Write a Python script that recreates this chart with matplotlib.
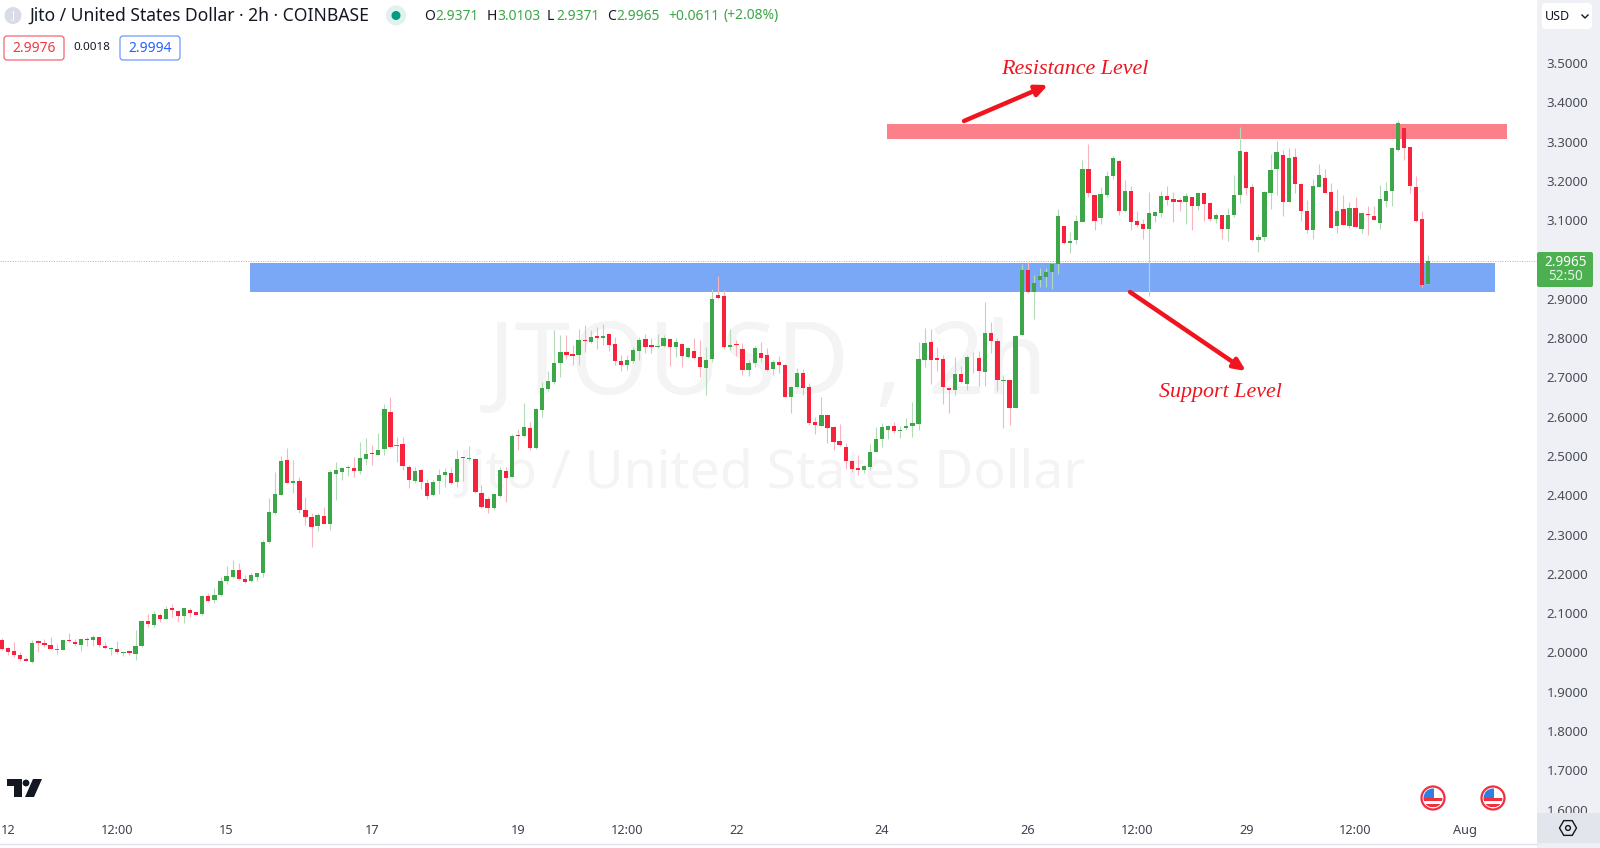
import numpy as np
import matplotlib
matplotlib.use('Agg')
import matplotlib.pyplot as plt
from matplotlib.patches import Rectangle, Circle, Polygon, RegularPolygon, FancyBboxPatch

plt.rcParams['font.family'] = ['Noto Sans', 'DejaVu Sans']

# 2h candles
opens = [
    2.031,2.011,2.003,1.994,1.984,1.977,2.028,2.023,2.019,2.007,
    2.007,2.032,2.027,2.019,2.035,2.032,2.039,2.017,2.009,2.010,
    1.998,2.003,1.996,2.017,2.080,2.069,2.096,2.085,2.112,2.106,
    2.093,2.107,2.102,2.097,2.144,2.133,2.145,2.181,2.191,2.210,
    2.188,2.181,2.191,2.201,2.280,2.355,2.401,2.490,2.430,2.436,
    2.363,2.345,2.321,2.347,2.327,2.455,2.460,2.469,2.470,2.462,
    2.492,2.507,2.503,2.518,2.613,2.525,2.530,2.473,2.437,2.463,
    2.432,2.400,2.435,2.451,2.456,2.433,2.498,2.493,2.493,2.405,
    2.390,2.367,2.397,2.462,2.447,2.553,2.551,2.571,2.519,2.617,
    2.671,2.688,2.737,2.765,2.760,2.757,2.795,2.790,2.804,2.800,
    2.809,2.784,2.741,2.732,2.741,2.766,2.798,2.782,2.777,2.780,
    2.798,2.776,2.786,2.752,2.768,2.752,2.723,2.747,2.909,2.907,
    2.777,2.784,2.772,2.718,2.736,2.763,2.757,2.721,2.739,2.732,
    2.650,2.676,2.712,2.676,2.586,2.576,2.604,2.573,2.538,2.523,
    2.488,2.469,2.463,2.473,2.509,2.543,2.565,2.575,2.563,2.571,
    2.575,2.582,2.745,2.790,2.748,2.746,2.672,2.667,2.708,2.684,
    2.750,2.748,2.714,2.813,2.793,2.691,2.692,2.623,2.807,2.972,
    2.918,2.948,2.956,2.968,2.988,3.085,3.041,3.049,3.096,3.230,
    3.163,3.105,3.163,3.213,3.251,3.123,3.174,3.097,3.090,3.077,
    3.111,3.118,3.162,3.153,3.150,3.146,3.158,3.137,3.168,3.144,
    3.104,3.112,3.078,3.112,3.163,3.274,3.185,3.049,3.057,3.169,
    3.229,3.266,3.146,3.260,3.193,3.124,3.075,3.185,3.207,3.172,
    3.085,3.127,3.086,3.130,3.077,3.116,3.111,3.093,3.149,3.173,
    3.278,3.335,3.286,3.185,3.102,2.9371,
]
closes = [
    2.010,2.002,1.993,1.983,1.979,2.025,2.024,2.019,2.010,2.010,
    2.031,2.028,2.022,2.034,2.032,2.039,2.019,2.012,2.012,2.002,
    2.001,1.998,2.017,2.080,2.073,2.098,2.085,2.111,2.107,2.093,
    2.112,2.100,2.096,2.144,2.132,2.146,2.182,2.194,2.210,2.187,
    2.180,2.197,2.202,2.282,2.358,2.402,2.488,2.432,2.436,2.362,
    2.345,2.319,2.349,2.327,2.458,2.464,2.470,2.471,2.462,2.495,
    2.504,2.504,2.515,2.619,2.523,2.528,2.475,2.438,2.461,2.434,
    2.399,2.434,2.452,2.459,2.431,2.493,2.495,2.496,2.408,2.371,
    2.367,2.403,2.463,2.443,2.551,2.551,2.574,2.520,2.619,2.673,
    2.691,2.737,2.765,2.756,2.754,2.794,2.793,2.802,2.800,2.805,
    2.783,2.742,2.732,2.743,2.770,2.795,2.776,2.776,2.780,2.800,
    2.777,2.791,2.754,2.775,2.749,2.726,2.743,2.899,2.902,2.777,
    2.783,2.782,2.719,2.737,2.775,2.749,2.718,2.738,2.732,2.651,
    2.676,2.710,2.674,2.585,2.580,2.604,2.571,2.536,2.527,2.488,
    2.468,2.463,2.475,2.511,2.543,2.574,2.576,2.563,2.566,2.575,
    2.585,2.746,2.788,2.744,2.744,2.676,2.667,2.708,2.687,2.751,
    2.748,2.716,2.814,2.793,2.694,2.693,2.623,2.806,2.972,2.916,
    2.939,2.957,2.967,2.989,3.110,3.041,3.048,3.098,3.229,3.168,
    3.098,3.166,3.213,3.259,3.124,3.174,3.095,3.088,3.077,3.117,
    3.121,3.161,3.151,3.147,3.146,3.161,3.137,3.170,3.140,3.103,
    3.113,3.078,3.113,3.163,3.276,3.182,3.050,3.057,3.172,3.227,
    3.273,3.146,3.259,3.193,3.122,3.074,3.188,3.215,3.170,3.080,
    3.124,3.088,3.130,3.083,3.118,3.112,3.101,3.154,3.175,3.283,
    3.347,3.284,3.186,3.098,2.935,2.9965,
]
highs = [
    2.036,2.015,2.027,2.001,1.988,2.032,2.032,2.034,2.039,2.022,
    2.032,2.049,2.034,2.036,2.040,2.045,2.040,2.026,2.015,2.029,
    2.002,2.007,2.057,2.081,2.097,2.105,2.100,2.117,2.124,2.108,
    2.114,2.112,2.104,2.145,2.151,2.165,2.191,2.220,2.235,2.227,
    2.196,2.203,2.203,2.286,2.392,2.458,2.501,2.519,2.490,2.446,
    2.395,2.356,2.354,2.369,2.464,2.484,2.472,2.477,2.497,2.535,
    2.545,2.528,2.558,2.631,2.651,2.549,2.548,2.476,2.471,2.466,
    2.441,2.439,2.467,2.469,2.469,2.514,2.498,2.525,2.495,2.426,
    2.395,2.405,2.473,2.471,2.556,2.568,2.634,2.586,2.621,2.688,
    2.716,2.821,2.808,2.808,2.782,2.822,2.833,2.821,2.829,2.836,
    2.810,2.802,2.757,2.757,2.777,2.802,2.810,2.799,2.810,2.808,
    2.799,2.801,2.788,2.777,2.799,2.796,2.776,2.924,2.958,2.922,
    2.822,2.795,2.787,2.744,2.780,2.791,2.774,2.744,2.754,2.733,
    2.677,2.724,2.722,2.685,2.600,2.649,2.604,2.575,2.581,2.532,
    2.490,2.503,2.477,2.531,2.574,2.583,2.579,2.586,2.575,2.597,
    2.638,2.791,2.826,2.822,2.777,2.758,2.674,2.751,2.729,2.758,
    2.764,2.766,2.891,2.842,2.801,2.706,2.693,2.807,2.989,2.994,
    2.961,2.978,2.978,2.994,3.128,3.085,3.070,3.112,3.253,3.293,
    3.165,3.185,3.226,3.262,3.252,3.202,3.187,3.122,3.103,3.171,
    3.123,3.175,3.187,3.171,3.155,3.168,3.160,3.172,3.171,3.145,
    3.119,3.113,3.130,3.215,3.338,3.275,3.192,3.065,3.173,3.268,
    3.302,3.279,3.283,3.283,3.194,3.152,3.205,3.243,3.230,3.194,
    3.179,3.163,3.147,3.158,3.121,3.136,3.136,3.190,3.196,3.285,
    3.355,3.336,3.286,3.213,3.124,3.0103,
]
lows = [
    2.007,1.994,1.988,1.979,1.978,1.973,2.000,2.015,2.008,1.996,
    2.007,2.027,2.017,2.005,2.017,2.017,2.013,2.010,1.994,1.996,
    1.991,1.994,1.981,2.015,2.066,2.066,2.078,2.084,2.090,2.078,
    2.074,2.091,2.095,2.096,2.129,2.127,2.144,2.174,2.189,2.185,
    2.178,2.180,2.181,2.192,2.279,2.353,2.400,2.430,2.407,2.356,
    2.324,2.268,2.309,2.326,2.312,2.388,2.439,2.449,2.446,2.455,
    2.477,2.477,2.502,2.503,2.520,2.484,2.464,2.419,2.432,2.415,
    2.390,2.397,2.403,2.420,2.429,2.422,2.436,2.486,2.405,2.367,
    2.355,2.363,2.395,2.384,2.446,2.514,2.549,2.514,2.518,2.598,
    2.664,2.683,2.702,2.746,2.731,2.731,2.765,2.788,2.772,2.782,
    2.768,2.732,2.717,2.719,2.736,2.744,2.763,2.763,2.774,2.777,
    2.729,2.751,2.727,2.750,2.746,2.701,2.654,2.740,2.899,2.771,
    2.770,2.754,2.706,2.704,2.726,2.740,2.716,2.707,2.710,2.649,
    2.608,2.672,2.655,2.578,2.556,2.575,2.532,2.514,2.525,2.466,
    2.458,2.452,2.456,2.464,2.509,2.522,2.543,2.559,2.546,2.565,
    2.549,2.566,2.727,2.684,2.715,2.633,2.610,2.654,2.685,2.667,
    2.712,2.677,2.679,2.761,2.666,2.572,2.579,2.621,2.805,2.914,
    2.849,2.929,2.929,2.924,2.963,3.039,3.017,3.038,3.096,3.160,
    3.075,3.090,3.160,3.204,3.114,3.121,3.075,3.082,3.051,2.907,
    3.095,3.107,3.138,3.094,3.123,3.090,3.075,3.126,3.098,3.099,
    3.092,3.052,3.046,3.109,3.143,3.164,3.048,3.018,3.048,3.128,
    3.164,3.111,3.145,3.170,3.099,3.068,3.051,3.184,3.168,3.079,
    3.067,3.087,3.079,3.082,3.067,3.061,3.100,3.078,3.133,3.137,
    3.277,3.253,3.170,3.095,2.931,2.9371,
]

time_ticks = [1, 19, 37, 61, 85, 103, 121, 145, 169, 187, 205, 223, 241]
time_labels = ['12', '12:00', '15', '17', '19', '12:00', '22', '24', '26', '12:00', '29', '12:00', 'Aug']
price_ticks = [1.6, 1.7, 1.8, 1.9, 2.0, 2.1, 2.2, 2.3, 2.4, 2.5, 2.6, 2.7, 2.8, 2.9,
               3.0, 3.1, 3.2, 3.3, 3.4, 3.5]
last_price = 2.9965
support_zone = (2.917, 2.990)
resistance_zone = (3.307, 3.345)

UP = '#3ca648'
DOWN = '#f7233c'
UP_WICK = '#b4dbb7'
DOWN_WICK = '#f9b4bd'
TEXT = '#131722'
PANEL = '#eef0f5'

W, H = 1600, 848
fig = plt.figure(figsize=(W / 100, H / 100), dpi=100, facecolor='white')

# price pane
ax = fig.add_axes([0, 35 / H, 1537 / W, 813 / H], zorder=1)
ax.set_xlim(-0.33, 252.9)
ax.set_ylim(1.5916, 3.660)
for s in ax.spines.values():
    s.set_visible(False)

ax.text(126.2, 2.725, 'JTOUSD , 2h', fontsize=72, color='#f4f4f5', ha='center', va='center', zorder=1)
ax.text(126.8, 2.454, 'Jito / United States Dollar', fontsize=38.5, color='#f4f4f5', ha='center', va='center', zorder=1)

ax.add_patch(Rectangle((40.9, support_zone[0]), 205.0, support_zone[1] - support_zone[0],
                       facecolor='#7aa8f7', edgecolor='none', zorder=2))
ax.add_patch(Rectangle((145.8, resistance_zone[0]), 102.1, resistance_zone[1] - resistance_zone[0],
                       facecolor='#fc808a', edgecolor='none', zorder=2))
ax.axhline(last_price, color='#8fcf92', lw=0.7, ls=(0, (1, 1.5)), zorder=2)

x = np.arange(len(opens))
o = np.array(opens)
c = np.array(closes)
up = c >= o
ax.vlines(x[up], np.array(lows)[up], np.array(highs)[up], color=UP_WICK, lw=0.8, zorder=3)
ax.vlines(x[~up], np.array(lows)[~up], np.array(highs)[~up], color=DOWN_WICK, lw=0.8, zorder=3)
ax.bar(x[up], (c - o)[up], bottom=o[up], width=0.7, color=UP, linewidth=0, zorder=4)
ax.bar(x[~up], (o - c)[~up], bottom=c[~up], width=0.7, color=DOWN, linewidth=0, zorder=4)

ax.set_xticks(time_ticks)
ax.set_xticklabels(time_labels, fontsize=9.2, color='#3f4350')
ax.get_xticklabels()[-1].set_fontweight('bold')
ax.yaxis.tick_right()
ax.set_yticks(price_ticks)
ax.set_yticklabels([f'{p:.4f}' for p in price_ticks], fontsize=9.6, color='#4a4e59')
ax.tick_params(axis='both', length=0)
ax.tick_params(axis='x', pad=8)
ax.tick_params(axis='y', pad=7)

# grey price scale behind the tick labels
fig.add_artist(Rectangle((1537 / W, 0), 63 / W, 1, transform=fig.transFigure,
                         facecolor=PANEL, edgecolor='none', zorder=-1))

# everything else in picture pixels
ov = fig.add_axes([0, 0, 1, 1], zorder=5)
ov.set_xlim(0, W)
ov.set_ylim(H, 0)
ov.axis('off')
ov.patch.set_alpha(0)

ov.plot([0, 1537], [843.5, 843.5], color='#e0e3eb', lw=1)
ov.add_patch(Rectangle((1537, 813), 63, 30, facecolor='#e3e5ed', edgecolor='none'))
ov.add_patch(RegularPolygon((1568, 828), 6, radius=8.5, orientation=np.pi / 2, fill=False, edgecolor=TEXT, lw=1))
ov.add_patch(Circle((1568, 828), 2.4, fill=False, edgecolor=TEXT, lw=1))

# header
ov.add_patch(Circle((13, 15.5), 8.5, facecolor='#d9dce6', edgecolor='none'))
ov.text(13, 15.5, 'J', color='white', fontsize=7.5, ha='center', va='center', fontweight='bold')
ov.text(29, 16, 'Jito / United States Dollar · 2h · COINBASE', fontsize=12.6, color=TEXT, ha='left', va='center')
ov.add_patch(Circle((396, 15.5), 10, facecolor='#dff2ee', edgecolor='none'))
ov.add_patch(Circle((396, 15.5), 4.5, facecolor='#089981', edgecolor='none'))
legend_bits = [(424, 'O', TEXT), (435, '2.9371', UP), (487, 'H', TEXT), (497, '3.0103', UP),
               (547, 'L', TEXT), (556, '2.9371', UP), (607, 'C', TEXT), (616, '2.9965', UP),
               (668, '+0.0611', UP), (724, '(+2.08%)', UP)]
for lx, txt, col in legend_bits:
    ov.text(lx, 16, txt, fontsize=10, color=col, ha='left', va='center')

ov.add_patch(FancyBboxPatch((4, 36), 60, 24, boxstyle='round,pad=0,rounding_size=3',
                            facecolor='white', edgecolor='#f7525f', lw=0.8))
ov.text(34, 48, '2.9976', fontsize=10, color='#f23645', ha='center', va='center')
ov.text(92, 48, '0.0018', fontsize=8.4, color=TEXT, ha='center', va='center')
ov.add_patch(FancyBboxPatch((120, 36), 60, 24, boxstyle='round,pad=0,rounding_size=3',
                            facecolor='white', edgecolor='#5b8cff', lw=0.8))
ov.text(150, 48, '2.9994', fontsize=10, color='#2962ff', ha='center', va='center')

# currency box and last price tag
ov.add_patch(FancyBboxPatch((1542, 3), 50, 26, boxstyle='round,pad=0,rounding_size=4',
                            facecolor='white', edgecolor='none'))
ov.text(1557, 16, 'USD', fontsize=9, color=TEXT, ha='center', va='center')
ov.plot([1582, 1585, 1588], [15, 18, 15], color=TEXT, lw=1)
ov.add_patch(FancyBboxPatch((1537, 252), 56, 35, boxstyle='round,pad=0,rounding_size=2',
                            facecolor='#4caf50', edgecolor='none'))
ov.text(1566, 262, '2.9965', fontsize=9.8, color='white', ha='center', va='center', fontweight='bold')
ov.text(1566, 277, '52:50', fontsize=9.8, color='#e4f3e5', ha='center', va='center')

# drawings
for txt, tx, ty, start, end in [('Resistance Level', 1075, 70, (964, 121), (1048, 85)),
                                ('Support Level', 1220, 392, (1130, 292), (1246, 371))]:
    ov.text(tx, ty, txt, fontsize=15.8, color='#f0141e', ha='center', va='center',
            family='Liberation Serif', style='italic')
    ov.annotate('', xy=end, xytext=start,
                arrowprops=dict(arrowstyle='-|>,head_length=0.7,head_width=0.32', color='#f0141e', lw=3.2,
                                shrinkA=0, shrinkB=0))

# TradingView mark
ov.add_patch(Polygon([(7, 779), (22, 779), (22, 797), (14, 797), (14, 786), (7, 786)], facecolor=TEXT, edgecolor='none'))
ov.add_patch(Circle((26, 783), 3.4, facecolor=TEXT, edgecolor='none'))
ov.add_patch(Polygon([(33, 779), (42, 779), (34, 797), (25, 797)], facecolor=TEXT, edgecolor='none'))

# event flags
for fx in [1433, 1493]:
    ring = Circle((fx, 798), 11.5, facecolor='white', edgecolor='#f0303f', lw=1.6)
    ov.add_patch(ring)
    inner = Circle((fx, 798), 9.5, transform=ov.transData)
    for sy, sh in [(798, 3), (804, 3)]:
        st = Rectangle((fx - 10, sy), 20, sh, facecolor='#f0303f', edgecolor='none')
        ov.add_patch(st)
        st.set_clip_path(inner)
    canton = Rectangle((fx - 10, 788), 11, 10, facecolor='#2f7fe0', edgecolor='none')
    ov.add_patch(canton)
    canton.set_clip_path(inner)

fig.savefig('out.png', dpi=100)
